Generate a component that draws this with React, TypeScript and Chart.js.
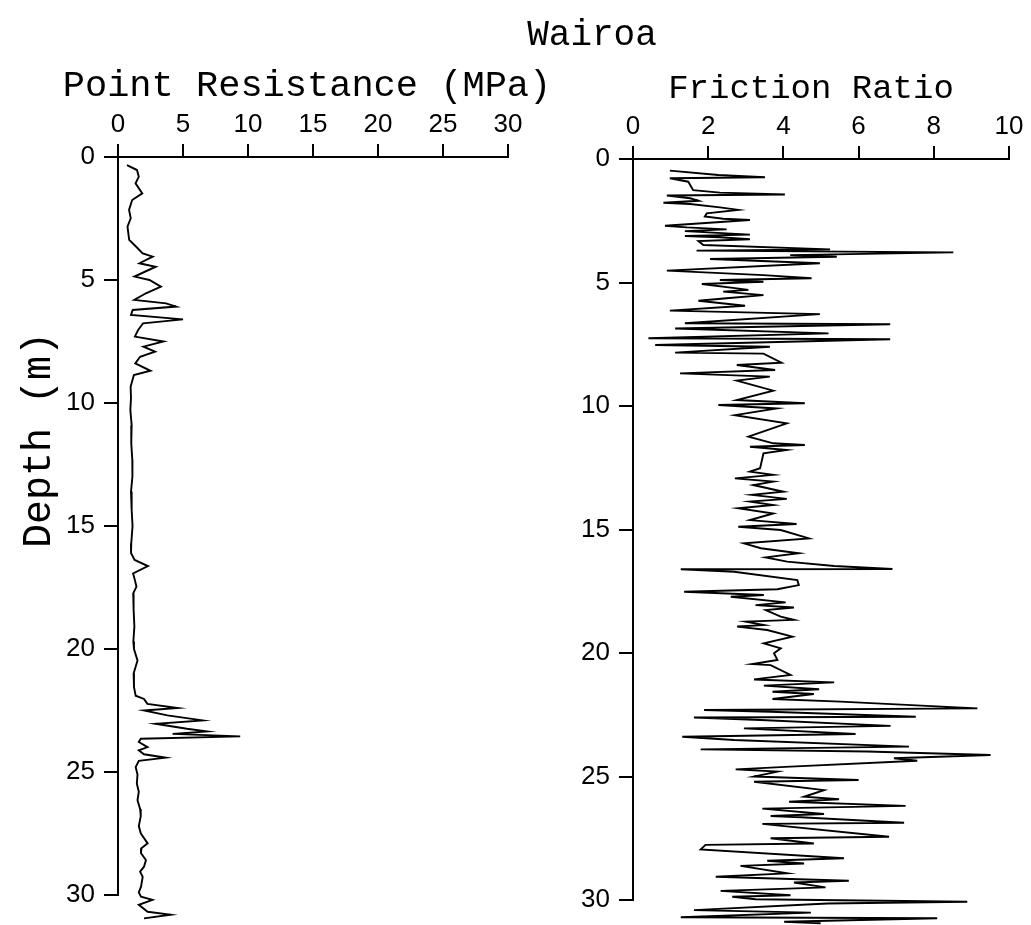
import React, { useEffect, useRef } from "react";
import { Chart, registerables } from "chart.js";

Chart.register(...registerables);

// ---- Data ----
const mainTitle = "Wairoa";
const resistanceTitle = "Point Resistance (MPa)";
const frictionTitle = "Friction Ratio";
const depthTitle = "Depth (m)";

const depthTicks = [0, 5, 10, 15, 20, 25, 30];
const resistanceTicks = [0, 5, 10, 15, 20, 25, 30];
const frictionTicks = [0, 2, 4, 6, 8, 10];

const resistanceDepth = [
  0.33, 0.53, 0.8, 1.07, 1.48, 1.75, 2.15, 2.49, 2.83, 3.37, 3.64, 3.92, 4.05, 4.32, 4.46, 4.86, 5.0, 5.27,
  5.54, 5.81, 5.95, 6.08, 6.22, 6.42, 6.6, 6.76, 7.03, 7.3, 7.5, 7.71, 7.91, 8.12, 8.39, 8.69, 8.86, 9.34,
  9.8, 10.28, 10.9, 11.64, 12.3, 12.99, 13.6, 14.35, 15.0, 15.7, 16.1, 16.38, 16.63, 16.93, 17.2, 17.47,
  17.74, 18.4, 19.09, 19.7, 20.0, 20.47, 21.0, 21.55, 21.9, 22.03, 22.23, 22.4, 22.5, 22.7, 22.9, 23.04,
  23.24, 23.35, 23.45, 23.55, 23.65, 23.78, 23.99, 24.12, 24.28, 24.42, 24.55, 24.8, 25.1, 25.47, 25.8,
  26.15, 26.5, 26.8, 27.2, 27.5, 27.9, 28.1, 28.3, 28.58, 28.85, 29.05, 29.26, 29.66, 29.9, 30.07, 30.2,
  30.4, 30.68, 30.8, 30.95,
];
const resistanceValue = [
  0.69, 1.46, 1.6, 1.35, 1.87, 1.09, 0.85, 0.98, 0.73, 0.86, 1.38, 1.9, 2.67, 1.65, 2.9, 1.27, 2.42, 3.3,
  2.15, 1.25, 3.7, 4.47, 1.13, 1.0, 5.0, 1.93, 1.55, 1.3, 3.5, 1.96, 2.85, 1.7, 1.33, 2.5, 1.22, 0.97,
  1.0, 0.95, 1.05, 1.02, 1.1, 1.11, 1.0, 1.05, 1.12, 1.02, 1.0, 1.28, 2.3, 1.16, 1.3, 1.42,
  1.17, 1.2, 1.26, 1.18, 1.23, 1.5, 1.2, 1.23, 1.36, 2.0, 2.26, 4.6, 2.0, 3.8, 6.5, 2.9,
  5.3, 6.85, 4.2, 9.4, 1.75, 1.6, 2.27, 1.6, 2.0, 3.67, 1.6, 1.36, 1.5, 1.45, 1.6,
  1.5, 1.7, 1.75, 1.6, 1.76, 2.28, 1.8, 1.77, 2.15, 2.0, 1.7, 1.9, 1.77, 1.6, 1.77, 2.65,
  1.6, 2.28, 4.05, 2.0,
];

const frictionDepth = [
  0.47, 0.65, 0.74, 0.78, 0.92, 1.26, 1.36, 1.44, 1.48, 1.59, 1.69, 1.77, 1.82, 1.96, 2.06, 2.2, 2.33, 2.42,
  2.47, 2.7, 2.77, 2.85, 2.92, 3.06, 3.12, 3.17, 3.25, 3.32, 3.48, 3.66, 3.71, 3.78, 3.89, 3.96, 4.05, 4.22,
  4.52, 4.7, 4.83, 4.9, 4.97, 5.06, 5.24, 5.3, 5.37, 5.51, 5.64, 5.74, 5.94, 6.14, 6.28, 6.65, 6.69, 6.86,
  7.06, 7.26, 7.3, 7.53, 7.6, 7.84, 7.88, 8.25, 8.34, 8.54, 8.68, 8.81, 8.97, 9.38, 9.76, 9.89, 9.96, 10.1,
  10.37, 10.7, 11.24, 11.51, 11.58, 11.65, 11.78, 11.92, 12.52, 12.66, 12.79, 12.93, 13.06, 13.2, 13.47,
  13.6, 13.76, 13.87, 14.01, 14.14, 14.35, 14.62, 14.78, 14.89,
  15.02, 15.36, 15.56, 15.76, 15.96, 16.13, 16.3, 16.48, 16.6, 16.61, 16.71, 17.05, 17.25, 17.42, 17.52,
  17.65, 17.72, 17.95, 18.06, 18.16, 18.26, 18.53, 18.66, 18.73, 18.87, 18.93, 19.07, 19.34, 19.61, 19.81,
  20.01, 20.28, 20.45, 20.49, 20.89, 21.07, 21.19, 21.32, 21.47, 21.57, 21.66, 21.86, 21.97, 22.24, 22.31,
  22.38, 22.58, 22.61, 22.71, 22.95, 23.05, 23.28, 23.39, 23.52, 23.79, 23.9, 23.99, 24.13, 24.26, 24.36,
  24.6, 24.71, 24.8, 25.0, 25.14, 25.21, 25.55, 25.82, 25.92, 26.02, 26.19, 26.3, 26.52, 26.6, 26.65,
  26.87, 26.92, 27.44, 27.5, 27.71, 27.77, 27.95, 28.31, 28.41, 28.52, 28.62, 28.92, 29.06, 29.22, 29.29,
  29.49, 29.63, 29.81, 29.87, 29.97, 30.07, 30.14, 30.41, 30.51, 30.7, 30.74, 30.88, 30.94,
];
const frictionValue = [
  0.98, 2.27, 3.51, 0.98, 1.47, 1.6, 2.31, 4.04, 0.9, 1.52, 1.74, 0.81, 1.52, 2.31, 2.8, 1.96, 1.91, 2.4,
  3.11, 0.85, 1.43, 2.49, 1.38, 3.11, 1.38, 2.31, 3.11, 1.74, 1.87, 5.24, 1.69, 8.52, 4.18, 5.42, 2.05, 4.97,
  0.9, 3.47, 4.75, 2.31, 3.47, 1.83, 2.76, 3.07, 2.4, 3.47, 2.49, 1.74, 2.98, 0.98, 4.97, 1.38, 6.84, 1.12,
  5.2, 0.41, 6.84, 0.59, 3.64, 1.12, 3.47, 3.95, 2.76, 3.78, 1.25, 3.64, 2.76, 3.73, 2.76, 4.57, 2.27, 3.82,
  2.71, 4.09, 3.07, 3.73, 4.57, 3.11, 4.09, 3.47, 3.38, 3.11, 3.73, 2.71, 3.73, 3.2, 4.0,
  3.16, 4.09, 3.11, 3.73, 2.8, 3.73, 3.11, 4.35, 2.8,
  3.93, 4.68, 2.95, 3.4, 4.41, 3.53, 4.1, 5.35, 6.9, 1.27, 2.69, 4.37, 4.41, 3.84, 1.36,
  3.48, 2.6, 4.06, 3.26, 4.28, 3.53, 3.93, 4.28, 3.0, 3.48, 2.77, 3.57, 4.24, 3.48, 3.93,
  3.75, 3.84, 3.17, 3.66, 4.19, 3.22, 5.35, 3.48, 4.95, 3.71, 4.81, 3.71, 5.52, 9.16, 1.89,
  3.66, 7.52, 1.62, 3.4, 6.85, 2.95, 5.92, 1.31, 2.69, 7.34, 1.8, 6.23, 9.51, 6.94, 7.56,
  4.19, 2.73, 3.84, 3.22, 6.0, 3.22, 5.08, 4.55, 5.48, 4.15, 7.25, 3.44, 5.08, 3.66, 4.46,
  7.21, 3.44, 6.81, 3.66, 4.81, 1.93, 1.8, 5.61, 3.57, 4.55, 2.86, 4.1, 2.2, 5.74, 4.28,
  5.12, 2.33, 4.19, 2.64, 3.26, 8.89, 5.17, 1.62, 4.73, 1.27, 8.09, 4.02, 4.99,
];

// ---- Helpers ----
type TextItem = { text: string; x: number; y: number; size: number; rotate?: boolean };

const textPlugin = {
  id: "panelTexts",
  afterDraw(chart: any, _args: any, opts: any) {
    const items: TextItem[] = (opts && opts.items) || [];
    const ctx = chart.ctx;
    ctx.save();
    ctx.fillStyle = "#000";
    ctx.textAlign = "center";
    for (const it of items) {
      ctx.font = `${it.size}px "Liberation Mono", monospace`;
      if (it.rotate) {
        ctx.save();
        ctx.translate(it.x, it.y);
        ctx.rotate(-Math.PI / 2);
        ctx.textBaseline = "middle";
        ctx.fillText(it.text, 0, 0);
        ctx.restore();
      } else {
        ctx.textBaseline = "alphabetic";
        ctx.fillText(it.text, it.x, it.y);
      }
    }
    ctx.restore();
  },
};

function makeConfig(opts: {
  depth: number[];
  values: number[];
  xMax: number;
  xTicks: number[];
  xHeight: number;
  yWidth: number;
  padRight: number;
  padBottom: number;
  texts: TextItem[];
}) {
  const tickFont = { family: "'Liberation Sans', Arial, sans-serif", size: 26 };
  const data = opts.depth.map((d, i) => ({ x: opts.values[i], y: d }));
  return {
    type: "scatter" as const,
    data: {
      datasets: [
        {
          data,
          showLine: true,
          borderColor: "#000",
          borderWidth: 1.9,
          pointRadius: 0,
          tension: 0,
          clip: false as any,
        },
      ],
    },
    options: {
      animation: false as const,
      responsive: false,
      events: [],
      layout: { padding: { left: 0, top: 0, right: opts.padRight, bottom: opts.padBottom } },
      plugins: {
        legend: { display: false },
        tooltip: { enabled: false },
        panelTexts: { items: opts.texts },
      },
      scales: {
        x: {
          type: "linear" as const,
          position: "top" as const,
          min: 0,
          max: opts.xMax,
          afterBuildTicks: (s: any) => {
            s.ticks = opts.xTicks.map((v) => ({ value: v }));
          },
          afterFit: (s: any) => {
            s.height = opts.xHeight;
          },
          ticks: { color: "#000", font: tickFont, padding: 4, maxRotation: 0, autoSkip: false },
          grid: { drawOnChartArea: false, drawTicks: true, tickLength: 13, color: "#000", lineWidth: 2 },
          border: { display: true, color: "#000", width: 2 },
        },
        y: {
          type: "linear" as const,
          position: "left" as const,
          reverse: true,
          min: 0,
          max: 30,
          afterBuildTicks: (s: any) => {
            s.ticks = depthTicks.map((v) => ({ value: v }));
          },
          afterFit: (s: any) => {
            s.width = opts.yWidth;
          },
          ticks: { color: "#000", font: tickFont, padding: 9, autoSkip: false },
          grid: { drawOnChartArea: false, drawTicks: true, tickLength: 14, color: "#000", lineWidth: 2 },
          border: { display: true, color: "#000", width: 2 },
        },
      },
    },
    plugins: [textPlugin],
  };
}

export default function App() {
  const leftRef = useRef<HTMLCanvasElement | null>(null);
  const rightRef = useRef<HTMLCanvasElement | null>(null);

  useEffect(() => {
    const left = new Chart(
      leftRef.current as HTMLCanvasElement,
      makeConfig({
        depth: resistanceDepth,
        values: resistanceValue,
        xMax: 30,
        xTicks: resistanceTicks,
        xHeight: 157,
        yWidth: 118,
        padRight: 1031 - 508,
        padBottom: 925 - 895,
        texts: [
          { text: mainTitle, x: 592, y: 45, size: 36 },
          { text: resistanceTitle, x: 307, y: 96, size: 37 },
          { text: depthTitle, x: 39, y: 440, size: 40, rotate: true },
        ],
      }) as any
    );
    const right = new Chart(
      rightRef.current as HTMLCanvasElement,
      makeConfig({
        depth: frictionDepth,
        values: frictionValue,
        xMax: 10,
        xTicks: frictionTicks,
        xHeight: 159,
        yWidth: 73,
        padRight: 471 - 449,
        padBottom: 925 - 900,
        texts: [{ text: frictionTitle, x: 251, y: 98, size: 34 }],
      }) as any
    );
    return () => {
      left.destroy();
      right.destroy();
    };
  }, []);

  return (
    <div style={{ position: "absolute", left: 0, top: 0, width: 1031, height: 925, background: "#fff" }}>
      <canvas ref={leftRef} width={1031} height={925} style={{ position: "absolute", left: 0, top: 0 }} />
      <canvas ref={rightRef} width={471} height={925} style={{ position: "absolute", left: 560, top: 0 }} />
    </div>
  );
}
